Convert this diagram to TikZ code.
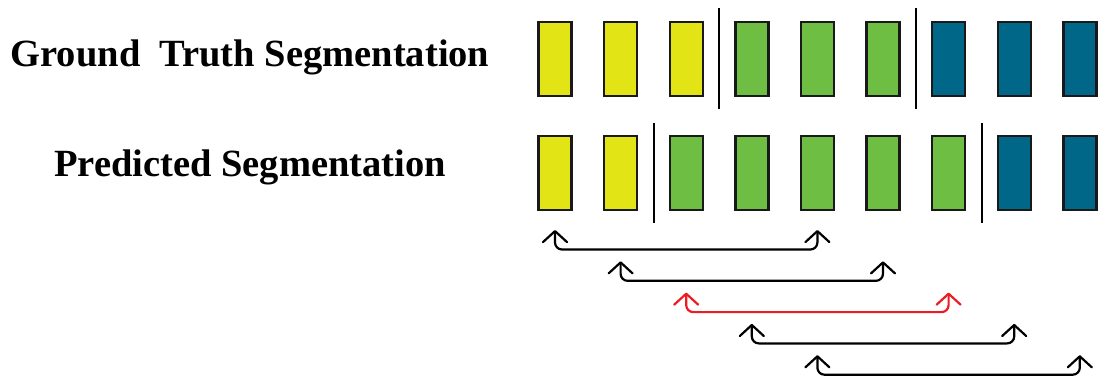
\documentclass[tikz,border=0pt]{standalone}
\usepackage{fontspec}
\setmainfont{Liberation Serif}
\usetikzlibrary{arrows.meta}
\definecolor{segyellow}{RGB}{226,228,22}
\definecolor{seggreen}{RGB}{110,190,68}
\definecolor{segblue}{RGB}{0,103,137}
\definecolor{segred}{RGB}{237,28,36}
\begin{document}
\begin{tikzpicture}[x=1pt,y=-1pt,
  segbox/.style={draw=black!90, line width=2.4pt, minimum width=33pt, minimum height=74pt, inner sep=0pt},
  divider/.style={draw=black, line width=2.2pt},
  label/.style={font=\bfseries\fontsize{38.5}{42}\selectfont, anchor=base, inner sep=0pt},
  barb/.tip={Straight Barb[length=11pt,width=24pt,line width=2.2pt,line cap=round,line join=round]},
  spanarrow/.style={line width=2.2pt, rounded corners=7pt, line cap=round, line join=round, barb-barb}
]
\useasboundingbox (0,0) rectangle (1098,377);

\node[label] (gt) at (250,66.7) {Ground\ \ Truth Segmentation};
\node[label] (pr) at (250,176.7) {Predicted Segmentation};

% ground truth row
\foreach \i/\c in {1/segyellow,2/segyellow,3/segyellow,4/seggreen,5/seggreen,6/seggreen,7/segblue,8/segblue,9/segblue}{
  \node[segbox, fill=\c] (t\i) at ({555+65.6*(\i-1)},59) {};
}
% predicted row
\foreach \i/\c in {1/segyellow,2/segyellow,3/seggreen,4/seggreen,5/seggreen,6/seggreen,7/seggreen,8/segblue,9/segblue}{
  \node[segbox, fill=\c] (p\i) at ({555+65.6*(\i-1)},173) {};
}

% segment boundaries
\draw[divider] (719.3,8) -- (719.3,109);
\draw[divider] (916.0,8) -- (916.0,109);
\draw[divider] (653.7,123) -- (653.7,223);
\draw[divider] (981.8,123) -- (981.8,223);

% span arrows
\foreach \k/\c in {1/black,2/black,3/segred,4/black,5/black}{
  \pgfmathtruncatemacro{\r}{\k+4}
  \pgfmathsetmacro{\ty}{230+31.3*(\k-1)}
  \coordinate (aL\k) at (p\k.south |- 0,\ty);
  \coordinate (aR\k) at (p\r.south |- 0,\ty);
  \draw[spanarrow, draw=\c] (aL\k) -- ++(0,19.5) -| (aR\k);
}
\end{tikzpicture}
\end{document}
